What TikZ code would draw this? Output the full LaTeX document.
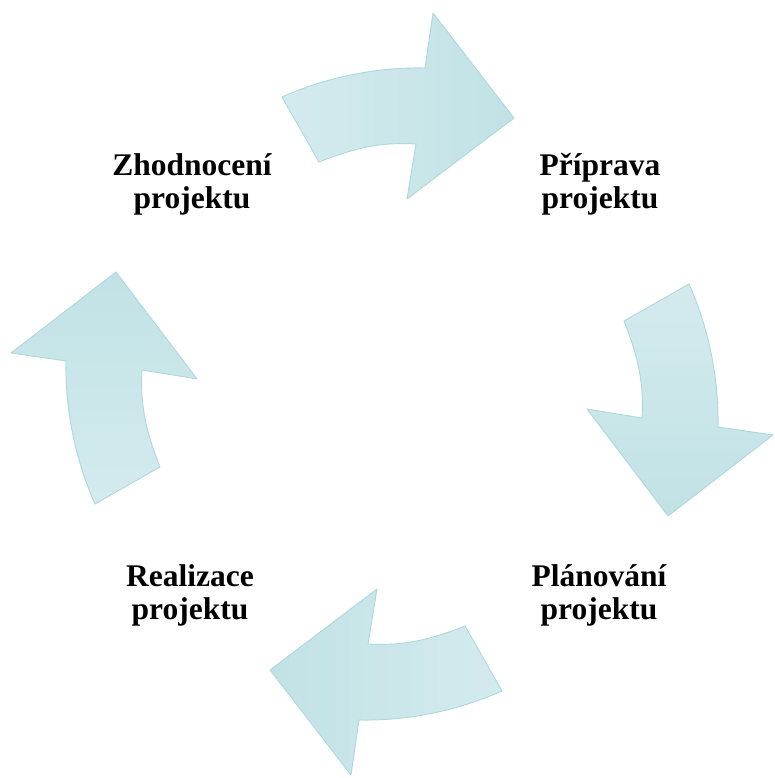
\documentclass[tikz,border=0pt]{standalone}
\usepackage{fontspec}
\setmainfont{Liberation Serif}
\definecolor{arlight}{RGB}{212,235,238}
\definecolor{ardark}{RGB}{193,226,229}
\definecolor{aredge}{RGB}{174,216,221}
\tikzset{
  cyclearrow/.style={draw=aredge, line width=0.9pt, line join=round},
  steplabel/.style={font=\fontsize{31.5}{33}\selectfont\bfseries, align=center, inner sep=0pt, anchor=base}
}
\newcommand{\arrowshape}{%
  (-110,297) .. controls (-65,317) and (-15,327) .. (33,326)
  -- (41,381) -- (122,276) -- (15,195) -- (24,250)
  .. controls (-9,252) and (-35,247) .. (-73,232) -- cycle}
\begin{document}
\begin{tikzpicture}[x=1pt,y=1pt]
\useasboundingbox (0,0) rectangle (774,778);
\coordinate (C) at (392,384);
\begin{scope}[shift={(C)}]
  \path[cyclearrow, left color=arlight, right color=ardark] \arrowshape;
\end{scope}
\begin{scope}[shift={(C)}, rotate=-90]
  \path[cyclearrow, top color=arlight, bottom color=ardark] \arrowshape;
\end{scope}
\begin{scope}[shift={(C)}, rotate=180]
  \path[cyclearrow, left color=ardark, right color=arlight] \arrowshape;
\end{scope}
\begin{scope}[shift={(C)}, rotate=90]
  \path[cyclearrow, top color=ardark, bottom color=arlight] \arrowshape;
\end{scope}
\node[steplabel] (zhod) at (192,569) {Zhodnocení\\projektu};
\node[steplabel] (prip) at (600,569) {Příprava\\projektu};
\node[steplabel] (real) at (190,158) {Realizace\\projektu};
\node[steplabel] (plan) at (599,158) {Plánování\\projektu};
\end{tikzpicture}
\end{document}
